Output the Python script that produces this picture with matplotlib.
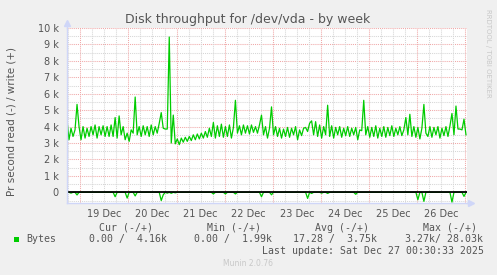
import matplotlib
matplotlib.use("Agg")
import matplotlib.pyplot as plt
import numpy as np
import pandas as pd
from matplotlib.patches import Rectangle

# ---------------- data ----------------
title = "Disk throughput for /dev/vda - by week"
ylabel = "Pr second read (-) / write (+)"
start = "2025-12-18 17:22"
end = "2025-12-27 00:52"

# write throughput (k bytes/s), hourly samples
write_k = [
    4.4, 3.2, 3.9, 3.4, 3.8, 5.35, 4.0, 3.2, 4.0, 3.3,
    3.9, 3.4, 4.0, 3.5, 4.1, 3.3, 4.0, 3.5, 4.05, 3.4,
    4.0, 3.4, 4.1, 3.4, 4.55, 3.3, 4.65, 3.5, 4.0, 3.2,
    3.6, 3.1, 3.8, 3.6, 5.8, 3.5, 4.0, 3.4, 4.05, 3.5,
    4.0, 3.4, 4.1, 3.5, 4.0, 3.6, 4.2, 4.85, 3.9, 3.85,
    3.85, 9.45, 3.0, 4.7, 2.95, 3.25, 2.9, 3.3, 3.05, 3.35,
    3.1, 3.4, 3.15, 3.5, 3.2, 3.55, 3.25, 3.6, 3.3, 3.7,
    3.35, 3.9, 3.4, 4.25, 3.3, 4.05, 3.4, 4.15, 3.35, 4.0,
    3.4, 4.1, 3.3, 3.95, 5.6, 3.6, 4.05, 3.5, 4.1, 3.6,
    4.05, 3.55, 4.1, 3.65, 4.0, 3.6, 4.1, 4.7, 3.5, 4.0,
    3.3, 3.9, 5.2, 3.5, 4.0, 3.4, 3.9, 3.3, 3.85, 3.4,
    3.95, 3.35, 3.9, 3.5, 4.0, 3.2, 3.8, 3.45, 3.9, 3.95,
    3.7, 4.2, 4.35, 3.5, 4.3, 3.4, 4.1, 3.3, 4.0, 3.5,
    5.3, 3.4, 4.05, 3.3, 3.95, 3.5, 4.0, 3.35, 3.9, 3.45,
    4.0, 3.4, 3.9, 3.5, 3.95, 3.2, 3.8, 3.75, 5.6, 3.5,
    4.0, 3.35, 3.95, 3.4, 4.05, 3.3, 3.9, 3.4, 4.0, 3.35,
    3.95, 3.45, 4.05, 3.4, 3.9, 3.5, 4.0, 3.45, 3.8, 4.55,
    3.5, 4.75, 3.4, 4.0, 3.35, 3.95, 3.25, 3.9, 5.35, 3.6,
    3.4, 4.0, 3.35, 3.95, 3.5, 4.0, 3.3, 3.9, 3.45, 4.0,
    3.4, 4.05, 4.8, 3.5, 5.25, 3.85, 3.85, 3.8, 4.45, 3.5,
]
# read throughput dips (drawn negative): sample index and value (k bytes/s)
read_dip_index = [2, 5, 24, 30, 34, 47, 48, 50, 52, 54, 73, 79, 84, 97, 102,
                  120, 122, 127, 130, 144, 175, 178, 192, 198]
read_dip_k = [-0.05, -0.16, -0.27, -0.35, -0.22, -0.5, -0.15, -0.05, -0.06, -0.03,
              -0.1, -0.1, -0.1, -0.27, -0.15, -0.37, -0.07, -0.05, -0.07, -0.12,
              -0.45, -0.55, -0.6, -0.25]

x_labels = ["19 Dec", "20 Dec", "21 Dec", "22 Dec", "23 Dec", "24 Dec", "25 Dec", "26 Dec"]
y_ticks_k = [0, 1, 2, 3, 4, 5, 6, 7, 8, 9, 10]

legend_series = "Bytes"
legend_heads = ["Cur (-/+)", "Min (-/+)", "Avg (-/+)", "Max (-/+)"]
legend_vals = ["0.00 /  4.16k", "0.00 /  1.99k", "17.28 /  3.75k", "3.27k/ 28.03k"]
last_update = "Last update: Sat Dec 27 00:30:33 2025"
footer = "Munin 2.0.76"
watermark = "RRDTOOL / TOBI OETIKER"

# ---------------- styling ----------------
W, H = 497, 275
TXT = "#555555"
GREEN = "#00cc00"
AXISC = "#cfd6f8"
MINOR = "#d6d6d6"
MAJOR = "#f0a8a8"

times = pd.date_range(start, periods=len(write_k), freq="1h")
write = np.array(write_k) * 1000.0
read = np.zeros(len(write_k))
read[read_dip_index] = np.array(read_dip_k) * 1000.0

fig = plt.figure(figsize=(W / 100, H / 100), dpi=100, facecolor="#f0f0f0")


def fx(px):
    return px / W


def fy(py):
    return 1 - py / H


ax = fig.add_axes([fx(67), fy(203), 400 / W, 175 / H])
ax.set_facecolor("white")
t0, t1 = pd.Timestamp(start), pd.Timestamp(end)
ax.set_xlim(t0, t1)
ax.set_ylim(-650, 10000)

dot = (0, (1, 1))
# horizontal grid
for v in np.arange(-500, 10001, 500):
    if v == 0:
        continue
    col = MAJOR if v % 1000 == 0 else MINOR
    ax.axhline(v, color=col, lw=0.75, ls=dot, zorder=1)
# vertical grid
for t in pd.date_range(t0.ceil("6h"), t1, freq="6h"):
    col = MAJOR if t.hour == 0 else MINOR
    ax.axvline(t, color=col, lw=0.75, ls=dot, zorder=1)

ax.plot(times, write, color=GREEN, lw=0.9, zorder=3)
ax.plot(times, read, color=GREEN, lw=0.9, zorder=3)
ax.axhline(0, color="black", lw=1.3, zorder=4)

for s in ["top", "right"]:
    ax.spines[s].set_visible(False)
for s in ["left", "bottom"]:
    ax.spines[s].set_color(AXISC)
    ax.spines[s].set_linewidth(1.0)
    ax.spines[s].set_zorder(5)

# axis arrows
ax.plot([0, 0], [1, 1.03], transform=ax.transAxes, color=AXISC, lw=1.0, clip_on=False)
ax.plot([0], [1.03], transform=ax.transAxes, marker="^", ms=4.5, color=AXISC, clip_on=False)
ax.plot([1, 1.008], [0, 0], transform=ax.transAxes, color=AXISC, lw=1.0, clip_on=False)
ax.plot([1.01], [0], transform=ax.transAxes, marker=">", ms=4.5, color=AXISC, clip_on=False)

ax.set_yticks([k * 1000 for k in y_ticks_k])
ax.set_yticklabels([f"{k} k" if k else "0" for k in y_ticks_k])
label_times = [pd.to_datetime(lbl + " 2025 12:00", format="%d %b %Y %H:%M") for lbl in x_labels]
ax.set_xticks(label_times)
ax.set_xticklabels(x_labels)
ax.tick_params(axis="y", length=0, pad=5.8, labelsize=7, colors=TXT)
ax.tick_params(axis="x", length=0, pad=4, labelsize=7, colors=TXT)

# texts
fig.text(fx(248), fy(19), title, ha="center", va="center", fontsize=9, color=TXT)
fig.text(fx(12), fy(122), ylabel, rotation=90, ha="center", va="center", fontsize=7.5, color=TXT)

mono = dict(family="DejaVu Sans Mono", fontsize=7.1, color=TXT, ha="left", va="center")
head_x = [98.7, 206.7, 315, 422.7]
val_x = [89, 194, 293.3, 405]
for hx, h in zip(head_x, legend_heads):
    fig.text(fx(hx), fy(227.7), h, **mono)
fig.text(fx(26.7), fy(239.3), legend_series, **mono)
for vx, v in zip(val_x, legend_vals):
    fig.text(fx(vx), fy(239.3), v, **mono)
fig.add_artist(Rectangle((fx(14), fy(242)), 5 / W, 5 / H, transform=fig.transFigure,
                         facecolor=GREEN, edgecolor="none"))
fig.text(fx(261.7), fy(251), last_update, **mono)

fig.text(fx(248), fy(264), footer, ha="center", va="center", fontsize=5.5, color="#c8c8c8")
fig.text(fx(488), fy(53), watermark, rotation=270, ha="center", va="center", fontsize=5,
         color="#c8c8c8")

fig.savefig("out.png", dpi=100, facecolor=fig.get_facecolor())
